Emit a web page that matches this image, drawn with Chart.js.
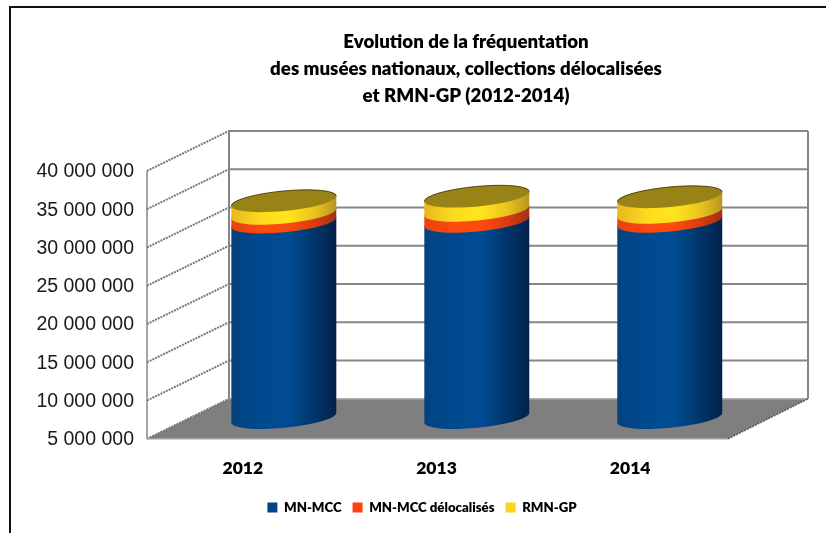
<!DOCTYPE html>
<html>
<head>
<meta charset="utf-8">
<script src="https://cdn.jsdelivr.net/npm/chart.js@4"></script>
<style>
html,body{margin:0;padding:0;background:#fff;overflow:hidden}
canvas{display:block}
</style>
</head>
<body>
<canvas id="c" width="826" height="533"></canvas>
<script>
const categories = ['2012', '2013', '2014'];
const mnMcc = [30680000, 30770000, 30770000];
const mnMccDelocalises = [1140000, 1430000, 1180000];
const rmnGp = [1640000, 1850000, 2030000];
const titleLines = ['Evolution de la fréquentation', 'des musées nationaux, collections délocalisées', 'et RMN-GP (2012-2014)'];

const DEPTH_X = 82, DEPTH_Y = 40;
const TILT = -5.5 * Math.PI / 180, MINOR = 10;
const GRID = '#868686';
const shades = [
  ['#04427f', '#004a90', '#004c94', '#003468', '#02224a'],
  ['#e8420f', '#ff4a0e', '#ff4a0e', '#d83c10', '#a03018'],
  ['#e8b81e', '#ffdc1e', '#ffe41c', '#e8c21e', '#b8951e']
];
const TOP_COLOR = '#998316';

function line(ctx, x1, y1, x2, y2, color, w, dash) {
  ctx.save();
  ctx.strokeStyle = color; ctx.lineWidth = w;
  ctx.setLineDash(dash || []);
  ctx.beginPath(); ctx.moveTo(x1, y1); ctx.lineTo(x2, y2); ctx.stroke();
  ctx.restore();
}

const scene = {
  id: 'scene',
  afterLayout(chart) {
    const t = chart.titleBlock, l = chart.legend;
    t.left = 106; t.right = 826;
    l.left = 18; l.right = 826;
  },
  beforeDatasetsDraw(chart) {
    const ctx = chart.ctx, a = chart.chartArea, y = chart.scales.y;
    const L = a.left, R = a.right, B = a.bottom;
    // floor
    ctx.fillStyle = '#7f7f7f';
    ctx.beginPath();
    ctx.moveTo(L, B); ctx.lineTo(R, B);
    ctx.lineTo(R + DEPTH_X - 2, B - DEPTH_Y); ctx.lineTo(L + DEPTH_X, B - DEPTH_Y);
    ctx.closePath(); ctx.fill();
    // grid
    y.ticks.forEach(t => {
      const p = y.getPixelForValue(t.value);
      if (t.value !== y.min) {
        line(ctx, L + DEPTH_X, p - DEPTH_Y, R + DEPTH_X - 2, p - DEPTH_Y, GRID, 2);
      }
      line(ctx, L, p, L + DEPTH_X, p - DEPTH_Y, '#777777', 2, [2, 1]);
    });
    line(ctx, L + DEPTH_X, B - DEPTH_Y, R + DEPTH_X - 2, B - DEPTH_Y, '#b0b0b0', 1.5);
    line(ctx, L + DEPTH_X, a.top - DEPTH_Y, L + DEPTH_X, B - DEPTH_Y, GRID, 2);
    line(ctx, R + DEPTH_X - 2, a.top - DEPTH_Y, R + DEPTH_X - 2, B - DEPTH_Y, GRID, 2);
    line(ctx, L, a.top, L, B, GRID, 1.5);
    line(ctx, L, B, R, B, '#a0a0a0', 1.5);
    line(ctx, R, B, R + DEPTH_X - 2, B - DEPTH_Y, '#555', 1.5, [2, 1]);
    // cylinders, bottom segment first
    const metas = chart.data.datasets.map((d, i) => chart.getDatasetMeta(i));
    categories.forEach((c, j) => {
      let topEl = null, cx = 0, major = 0;
      metas.forEach((m, i) => {
        const el = m.data[j];
        cx = el.x + DEPTH_X / 2 - 1 - j * 0.7;
        const half = el.width / 2;
        major = half / Math.cos(TILT);
        const yb = Math.min(el.base, B) - DEPTH_Y / 2 - (i === 0 ? 1 : 0);
        const yt = el.y - DEPTH_Y / 2;
        const g = ctx.createLinearGradient(cx - half, 0, cx + half, 0);
        [0, 0.3, 0.55, 0.8, 1].forEach((s, k) => g.addColorStop(s, shades[i][k]));
        ctx.fillStyle = g;
        ctx.beginPath();
        ctx.ellipse(cx, yb, major, MINOR, TILT, 0, Math.PI, false);
        ctx.ellipse(cx, yt, major, MINOR, TILT, Math.PI, 2 * Math.PI, false);
        ctx.closePath(); ctx.fill();
        topEl = yt;
      });
      ctx.fillStyle = TOP_COLOR;
      ctx.beginPath();
      ctx.ellipse(cx, topEl, major, MINOR, TILT, 0, 2 * Math.PI);
      ctx.fill();
      ctx.strokeStyle = 'rgba(35,28,0,0.7)';
      ctx.lineWidth = 1;
      ctx.beginPath();
      ctx.ellipse(cx, topEl, major, MINOR, TILT, Math.PI, 2 * Math.PI);
      ctx.stroke();
    });
    return false;
  }
};

new Chart(document.getElementById('c'), {
  type: 'bar',
  data: {
    labels: categories,
    datasets: [
      { label: 'MN-MCC', data: mnMcc, backgroundColor: '#004586' },
      { label: 'MN-MCC délocalisés', data: mnMccDelocalises, backgroundColor: '#FF420E' },
      { label: 'RMN-GP', data: rmnGp, backgroundColor: '#FFD320' }
    ]
  },
  plugins: [scene, {
    id: 'frame',
    beforeDraw(chart) {
      const ctx = chart.ctx;
      ctx.fillStyle = '#fff';
      ctx.fillRect(0, 0, 826, 533);
      line(ctx, 10, 7, 10, 533, '#111', 2);
      line(ctx, 9, 7, 826, 7, '#111', 2);
    }
  }],
  options: {
    responsive: false,
    animation: false,
    layout: { padding: { left: 0, right: 98, top: 0, bottom: 9 } },
    datasets: { bar: { barPercentage: 0.542, categoryPercentage: 1 } },
    plugins: {
      tooltip: { enabled: false },
      title: {
        display: true,
        text: titleLines,
        color: '#000',
        font: { family: 'Lato', size: 18.7, weight: 800, lineHeight: 1.46 },
        padding: { top: 28, bottom: 61 }
      },
      legend: {
        position: 'bottom',
        labels: {
          color: '#000',
          boxWidth: 10, boxHeight: 10, padding: 11,
          font: { family: 'Lato', size: 13.2, weight: 800 }
        }
      }
    },
    scales: {
      x: {
        stacked: true,
        grid: { display: false, drawTicks: false },
        border: { display: false },
        afterFit(s) { s.height = 51; },
        ticks: {
          color: '#000', padding: 19, maxRotation: 0, labelOffset: -1,
          font: { family: 'Lato', size: 17.5, weight: 800 }
        }
      },
      y: {
        stacked: true,
        min: 5000000, max: 40000000,
        grid: { display: false, drawTicks: false },
        border: { display: false },
        afterFit(s) { s.width = 147; },
        ticks: {
          stepSize: 5000000, color: '#1a1a1a', padding: 13, labelOffset: 1,
          font: { family: 'Liberation Sans', size: 19.5 },
          callback: v => String(v).replace(/\B(?=(\d{3})+$)/g, ' ')
        }
      }
    }
  }
});
</script>
</body>
</html>
